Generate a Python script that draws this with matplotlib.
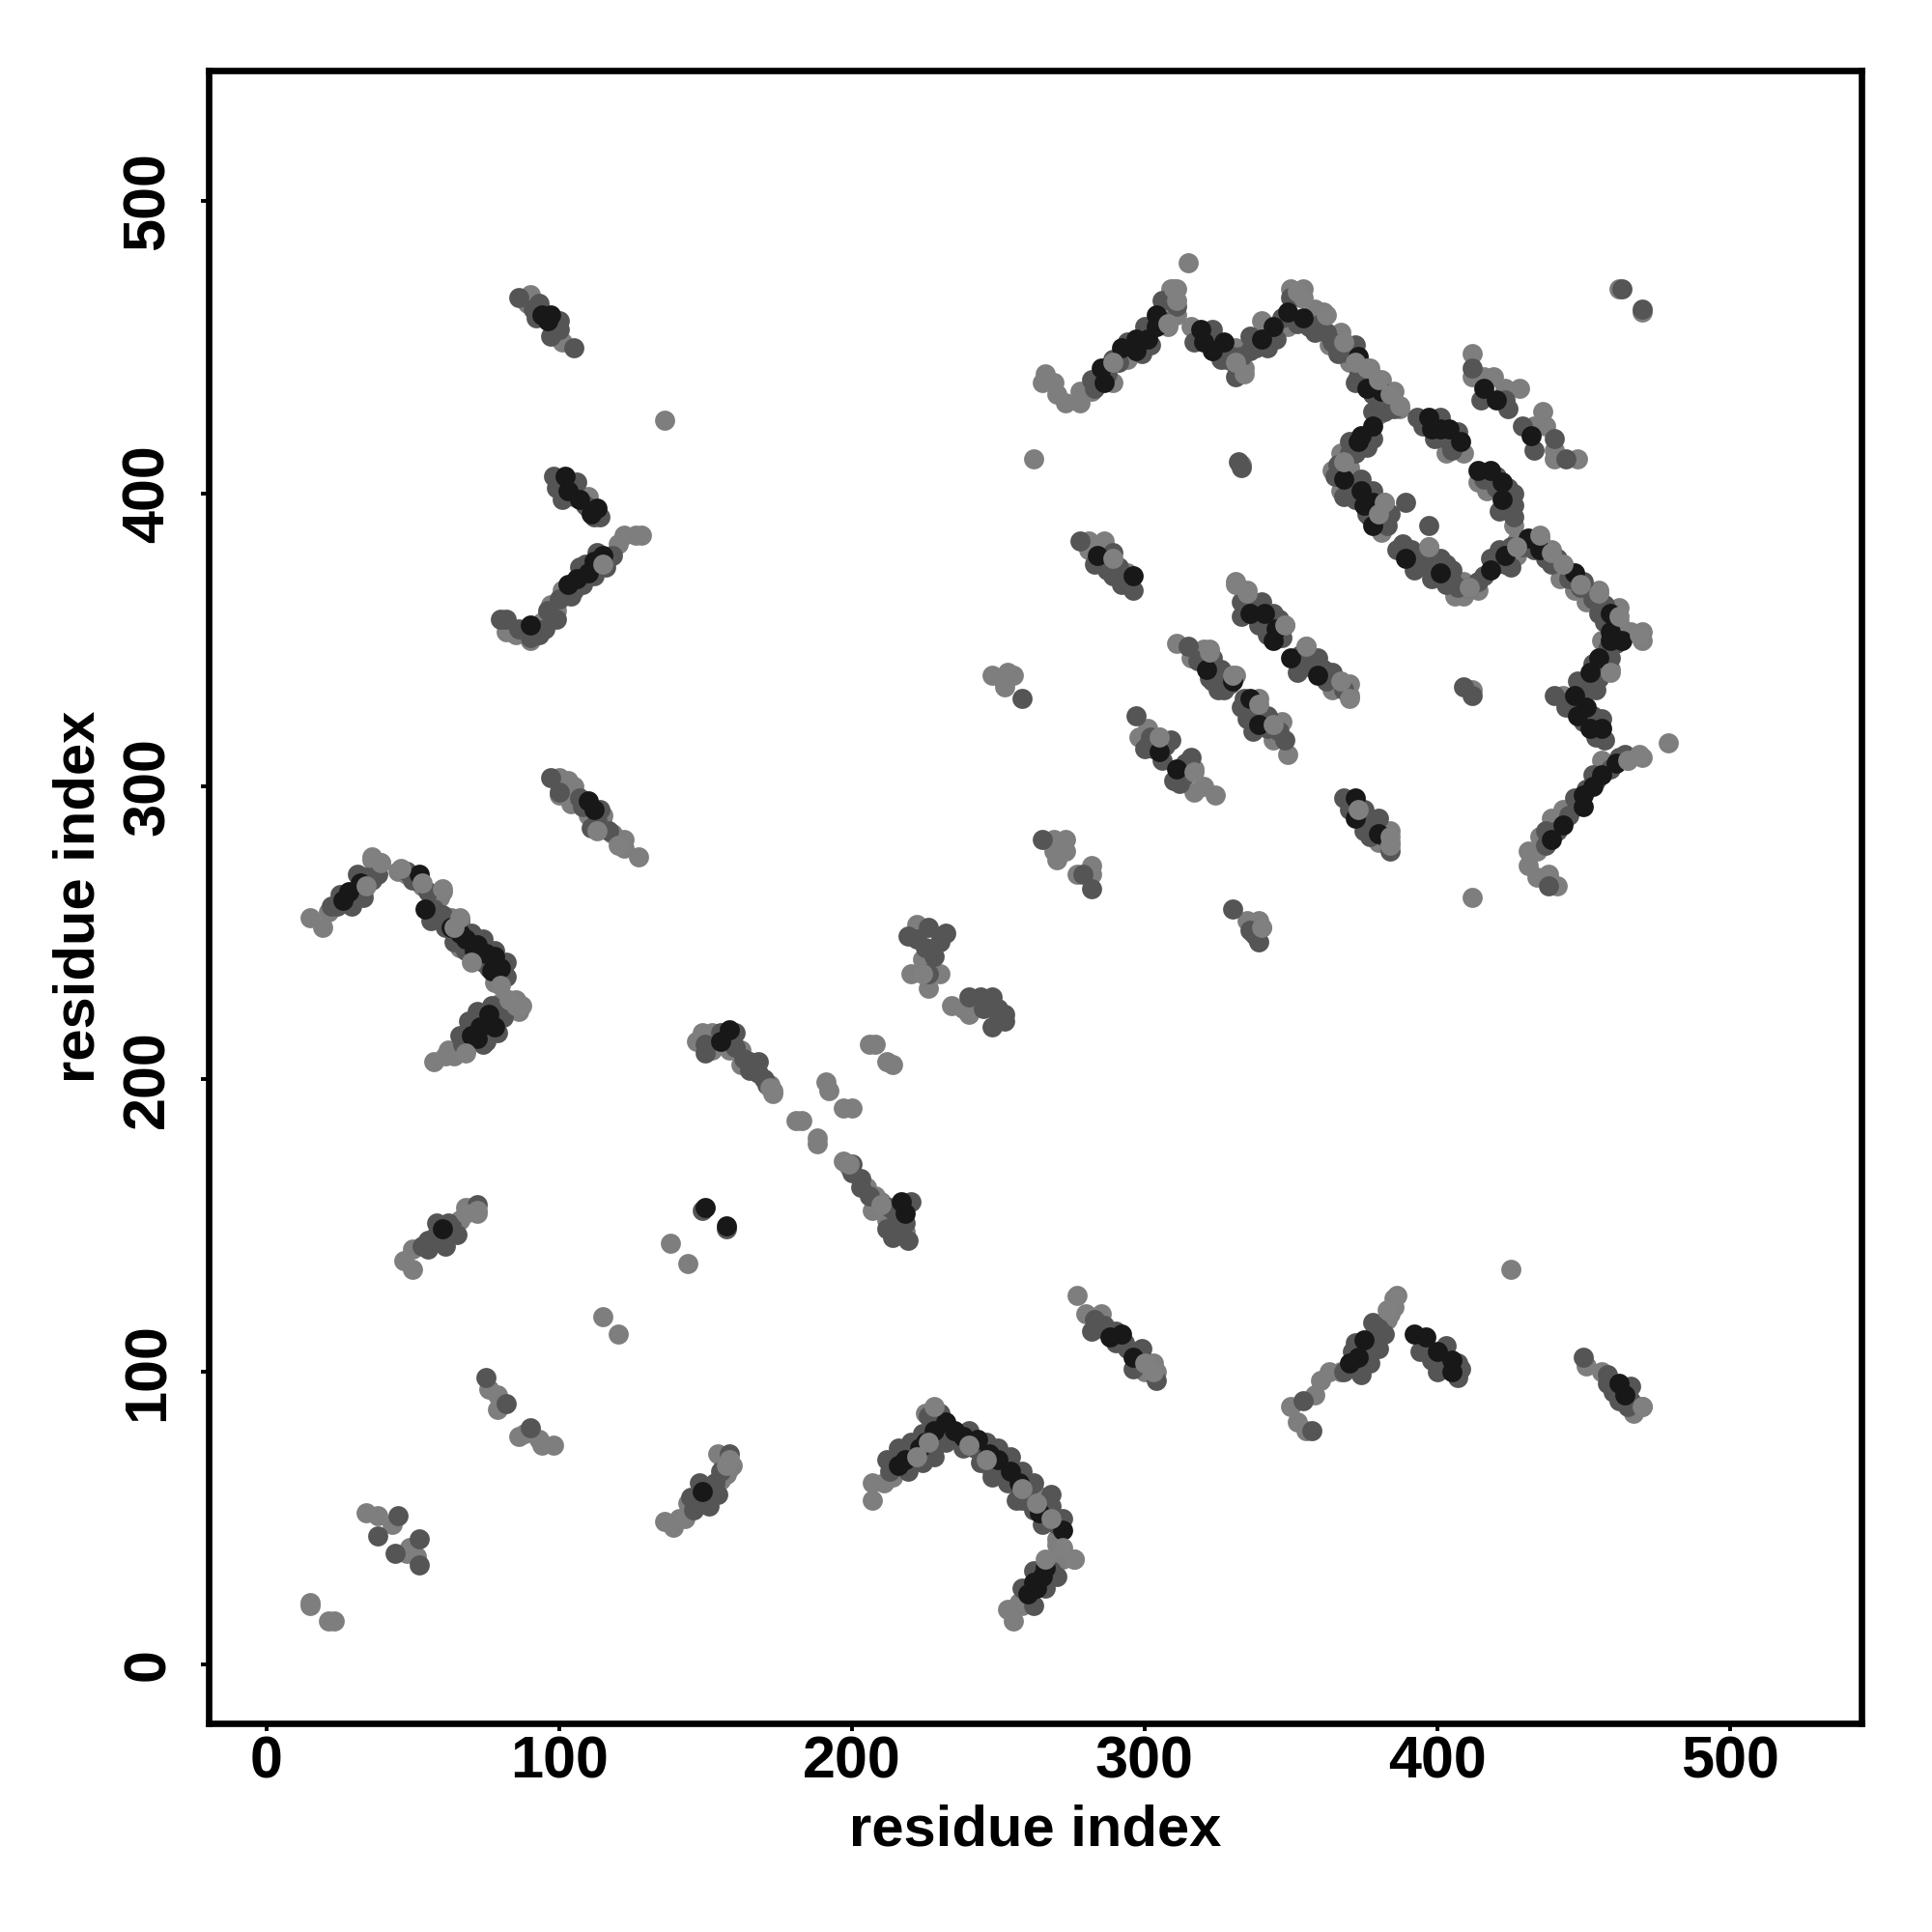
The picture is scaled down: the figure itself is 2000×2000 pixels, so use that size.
import matplotlib
matplotlib.use('Agg')
import matplotlib.pyplot as plt
import numpy as np

# contact points, grouped by shade
light_pts = [
    (15,21),(15,20),(21,15),(23,15),(34,52),(38,51),(43,48),(49,40),(51,37),(48,38),
    (76,94),(79,92),(79,87),(86,78),(88,79),(94,75),(98,75),(93,77),
    (136,49),(139,47),(141,50),(143,50),(144,55),(147,54),(155,63),(157,65),(158,67),(156,69),(154,72),(156,70),(159,68),
    (207,56),(207,62),(211,62),(214,64),(222,70),(226,72),(225,86),(245,75),(263,58),(266,50),(270,43),
    (255,15),(253,19),(257,21),(272,36),(276,36),(272,38),(270,41),(258,20),
    (277,126),(280,120),(285,120),(300,100),(303,103),(304,100),(298,106),(300,103),
    (350,88),(352,83),(355,80),(358,92),(360,97),(363,100),(367,100),(383,118),(385,122),(386,126),(384,120),
    (451,102),(456,100),(470,88),(467,86),(425,135),(115,119),(120,113),(138,144),(144,137),
    (47,138),(50,135),(50,142),(66,152),(68,156),(72,154),(70,156),(62,147),(56,144),
    (197,172),(199,170),(205,163),(208,160),(210,158),(218,148),(212,152),(207,155),(216,150),
    (147,213),(149,216),(152,216),(162,210),(172,198),(173,196),(158,210),(162,205),(152,210),
    (181,186),(183,186),(188,180),(188,178),(191,199),(192,196),(197,190),(200,190),(206,212),(208,212),(212,206),(214,205),
    (224,241),(220,236),(230,236),(226,231),(234,225),(238,224),(240,222),(222,253),
    (57,206),(61,208),(64,208),(62,210),(80,226),(85,227),(86,223),(84,226),(68,210),
    (15,255),(19,252),(21,257),(33,264),(37,272),(36,275),(39,274),(45,271),(48,270),(53,266),(59,262),(60,264),(63,255),(66,245),(78,233),
    (100,303),(103,302),(100,297),(105,300),(115,287),(118,284),(122,282),(122,279),(115,290),(127,276),(110,290),(104,294),
    (315,479),(262,412),(333,410),
    (266,441),(265,438),(269,438),(270,434),(273,431),(278,431),(278,435),(282,435),(289,438),(294,446),(308,457),(308,464),(309,470),(311,470),(311,461),
    (316,457),(331,444),(331,450),(334,443),(340,459),(349,457),(350,470),(354,470),(353,467),(358,463),(361,462),(367,455),(363,451),(368,450),(370,445),(377,443),(381,439),(385,435),(387,429),
    (380,427),(367,414),(370,409),(364,408),(367,401),(382,397),(381,387),(409,414),(403,414),(414,404),(417,401),(426,389),
    (397,382),(406,365),(409,370),(409,365),(414,367),(427,379),(427,384),
    (435,385),(439,381),(443,376),(442,371),(447,367),(455,367),(451,363),(462,361),(462,356),(466,353),(470,353),(470,350),(456,350),(459,340),(451,334),(443,331),
    (479,315),(470,310),(465,309),(456,309),(447,293),(443,292),(439,289),(435,283),(431,278),(431,273),(434,278),(434,269),(438,270),(441,266),
    (412,262),(335,254),(339,254),(340,252),(337,250),(462,470),(470,462),
    (412,448),(412,440),(416,440),(419,440),(423,436),(428,436),(436,428),(433,423),(437,423),(440,415),(440,412),(448,412),(412,333),
    (331,370),(335,367),(348,355),(355,348),(364,333),(370,335),(370,331),(367,335),
    (311,349),(320,347),(316,344),(322,347),(323,342),(328,338),(331,338),
    (339,330),(339,326),(344,322),(347,322),(344,316),(349,311),
    (301,320),(298,317),(305,317),(317,306),(320,300),(317,298),(324,297),
    (281,384),(286,384),(281,381),(289,377),(294,373),(373,293),(384,285),(384,281),(380,281),
    (269,282),(273,282),(269,278),(270,275),(273,278),(282,273),(277,270),(282,270),
    (248,338),(253,339),(255,338),(252,334),(251,337),
    (90,468),(89,465),(101,452),(136,425),(110,399),
    (82,353),(85,352),(94,356),(90,350),(96,359),(99,360),(97,362),(101,367),(120,383),(122,386),(126,386),(128,386),(115,376),
]
mid_pts = [
    (45,51),(38,44),(44,38),(52,43),(52,34),(75,98),(82,89),(90,81),
    (146,53),(148,56),(150,57),(152,58),(151,60),(153,62),(158,72),
    (213,66),(220,72),(228,74),(230,78),(226,85),(230,86),(240,80),(248,66),(252,68),(260,60),(258,56),(272,50),(268,32),
    (283,118),(284,115),(290,110),(294,108),(304,97),(296,101),(354,90),(376,107),(378,112),(380,115),(357,80),
    (396,108),(402,105),(406,100),(407,98),(400,100),(450,105),(458,99),(466,90),(465,88),
    (53,143),(55,145),(58,147),(63,150),(72,157),(200,168),(203,166),(213,156),(214,146),
    (150,212),(160,216),(165,206),(168,202),(170,200),
    (219,249),(226,252),(222,248),(225,245),(230,247),(228,242),(226,236),(240,228),(244,228),(248,228),(250,224),(252,222),(245,224),(248,218),(250,220),(252,220),(232,250),
    (67,212),(74,212),(78,224),(72,220),(24,259),(34,269),(38,270),(48,271),(55,264),(60,256),(80,235),(74,240),
    (97,303),(107,296),(113,288),(332,411),(333,409),
    (282,439),(289,446),(300,457),(311,464),(323,456),(326,446),(331,440),(336,449),(336,454),(350,467),(358,455),(362,455),(372,451),(373,440),(385,429),
    (382,428),(378,419),(370,418),(370,414),(365,406),(370,402),(374,405),(378,401),(381,392),(383,389),(389,397),(397,389),
    (393,426),(401,426),(404,418),(426,400),(426,396),(426,392),
    (388,383),(393,378),(397,375),(401,378),(405,374),(403,369),(414,370),(418,378),(423,376),
    (439,376),(450,370),(455,359),(459,344),(455,337),(448,336),(440,331),(444,327),(456,323),(457,316),
    (464,311),(438,266),(330,258),(336,251),(338,249),(339,247),(463,470),(470,463),
    (412,443),(415,432),(424,429),(423,432),(429,423),(440,419),(444,412),(433,415),(409,334),(412,331),
    (333,363),(340,363),(344,359),(339,355),(353,342),(359,344),(364,339),
    (315,348),(323,336),(327,333),(333,327),(335,323),(348,316),
    (297,324),(302,317),(309,316),(303,313),(316,310),(312,301),
    (278,384),(289,380),(285,376),(289,372),(296,367),(368,296),(376,289),(380,289),(375,285),(384,278),
    (265,282),(279,270),(282,265),(258,330),
    (86,467),(91,463),(100,456),(105,450),(98,406),(106,404),(99,402),(114,392),
    (80,357),(82,357),(90,351),(107,375),(118,379),(105,367),(96,360),
    # strand thickening
    (22,259),(25,263),(29,259),(33,262),(36,268),(31,270),
    (50,268),(57,258),(56,254),(61,252),(64,247),(68,244),(72,241),(76,238),(70,250),(74,248),(78,244),(82,240),(82,235),(66,254),
    (66,215),(69,220),(72,223),(77,225),(81,221),(75,213),(79,216),
    (212,70),(216,74),(220,76),(224,79),(219,66),(224,69),(228,71),(232,76),(228,84),(233,78),
    (238,74),(242,74),(246,76),(250,74),(254,71),(244,69),(248,64),(253,62),(258,66),(262,62),(256,56),(262,53),(268,58),(268,54),(270,48),(265,48),
    (262,20),(258,26),(262,32),(266,26),(270,30),
    (283,436),(287,441),(291,445),(295,451),(299,448),(294,452),(302,451),(306,459),(302,456),(306,466),
    (317,452),(322,453),(325,448),(328,446),(330,447),(333,447),(338,450),(342,450),(345,453),(347,460),(352,458),(356,457),(360,458),(364,452),(366,448),(370,448),(374,444),(372,438),(378,434),(382,431),(378,428),
    (376,416),(372,414),(366,410),(368,399),(372,398),(376,393),(380,390),(377,392),(384,393),
    (395,423),(399,419),(403,419),(407,421),(405,415),(416,405),(420,402),(424,402),(420,406),(424,396),(421,394),
    (386,381),(391,381),(395,376),(399,377),(403,376),(392,374),(398,371),(405,370),(407,368),(411,368),(416,372),(420,376),(425,375),(421,381),(425,382),
    (429,382),(433,381),(437,378),(441,378),(445,371),(449,368),(453,364),(457,362),(457,356),(461,349),(458,347),(453,342),(457,341),(450,335),(454,333),(445,329),(449,329),(447,326),(453,324),(450,322),(454,317),
    (459,306),(462,310),(454,302),(451,299),(448,295),(445,290),(441,285),(437,285),(447,296),(437,280),(453,304),
    (333,358),(337,362),(342,356),(346,357),(342,352),(347,351),(353,345),(352,339),(356,341),(361,340),(362,336),(368,333),
    (318,343),(323,344),(325,337),(326,340),(329,335),(322,337),(325,333),
    (334,330),(337,324),(342,324),(342,320),(346,319),(337,319),
    (301,314),(307,314),(306,309),(310,302),(314,304),(314,308),(300,313),
    (283,376),(287,374),(291,375),(292,369),(370,292),(375,292),(377,283),(378,287),(382,283),
    (92,460),(99,458),(100,459),(93,465),(97,454),(100,403),(105,399),(109,396),(112,392),(101,398),(110,395),
    (100,364),(104,365),(108,369),(112,372),(116,375),(109,376),(113,380),(99,357),(95,354),(86,354),(93,352),
    (100,298),(108,293),(114,292),(111,286),(117,285),
    (286,116),(290,114),(293,110),(297,103),(299,108),(282,114),
    (368,100),(371,107),(372,110),(377,103),(374,99),(380,108),(378,117),(382,113),
    (394,107),(398,104),(402,101),(403,109),(407,103),(408,101),(460,93),(466,95),(462,90),(458,96),
    (55,142),(58,151),(62,151),(65,147),(61,143),(145,57),(151,54),(154,58),(148,62),(155,66),
    (203,163),(200,171),(206,160),(212,149),(220,158),(218,151),(215,154),(219,145),
    (160,211),(165,203),(168,206),(171,198),(155,216),(150,209),(163,207),
    (149,155),(157,149),
]
dark_pts = [
    (149,59),(216,68),(218,70),(223,74),(225,76),(228,80),(232,83),(235,80),(238,78),(243,77),(247,72),(250,70),(254,66),(257,62),(264,52),(272,46),
    (260,24),(263,26),(265,30),(266,33),(262,28),
    (288,112),(292,113),(296,105),(370,103),(373,105),(375,111),
    (392,113),(396,112),(400,107),(405,104),(405,100),(462,96),(464,92),(150,156),(157,150),
    (60,149),(217,158),(218,154),(155,213),(158,217),
    (70,215),(73,218),(76,222),(72,214),(78,218),
    (26,261),(28,264),(32,267),(52,270),(54,258),(63,252),(66,250),(68,248),(72,246),(75,243),(78,242),(80,238),(77,237),(71,244),
    (110,295),(112,292),
    (285,443),(286,438),(292,450),(297,449),(297,453),(301,453),(304,461),(304,457),
    (319,456),(320,452),(323,449),(327,452),(340,453),(344,457),(349,462),(354,460),(373,447),(376,436),(381,435),
    (378,423),(374,420),(373,418),(368,405),(374,401),(375,396),(378,397),(378,389),
    (397,426),(398,422),(401,422),(404,422),(408,418),(414,408),(418,408),(422,404),(422,398),
    (389,378),(401,373),(418,374),(423,379),
    (431,385),(435,381),(447,373),(459,359),(459,353),(459,350),(463,350),(455,344),(452,339),(447,331),(451,327),(448,324),(452,320),(456,320),
    (461,308),(456,304),(453,300),(450,297),(450,293),(443,287),(439,282),
    (416,436),(420,432),(432,420),
    (336,359),(341,359),(345,354),(344,350),(350,344),(359,338),
    (321,340),(330,336),(336,330),(339,321),
    (305,312),(311,306),(284,379),(296,372),(372,296),(372,289),(380,284),
    (94,461),(97,461),(96,459),(102,406),(103,401),(107,398),(113,395),(111,393),
    (90,355),(103,369),(106,371),(110,373),(112,377),(115,379),
]
# light points that sit on top of the dark ones
top_pts = [
    (36,276),(39,274),(34,266),(53,267),(60,265),(66,255),(64,252),(46,272),(80,232),(70,240),(85,225),(87,225),(83,227),(68,209),
    (228,88),(222,71),(226,76),(240,75),(246,70),(258,60),(263,55),(268,50),(266,36),(272,40),(276,36),
    (289,445),(308,458),(311,466),(310,470),(331,445),(334,441),(352,469),(354,467),(362,461),(368,452),(372,445),(376,443),(380,439),(384,434),(387,430),
    (368,411),(382,397),(380,393),(397,382),(411,368),(427,382),(435,386),(439,380),(443,376),(449,369),(455,366),(462,358),(469,352),(459,339),(465,309),(469,311),
    (348,355),(355,348),(367,336),(370,330),(331,369),(335,366),(322,346),(330,338),(339,328),(344,321),(305,317),(317,305),(289,378),(373,292),(384,283),
    (113,285),(120,280),(115,376),(300,103),(303,100),(383,121),(385,125),(470,88),(68,154),(72,155),(157,68),(158,70),
    (172,197),(173,195),(199,171),(210,157),(224,236),(340,252),(384,280),
]

ticks = [0, 100, 200, 300, 400, 500]

plt.rcParams['font.family'] = ['Liberation Sans', 'DejaVu Sans']
plt.rcParams['font.weight'] = 'bold'

fig = plt.figure(figsize=(10, 10), dpi=200)
ax = fig.add_axes([216 / 2000, 216 / 2000, 1711 / 2000, 1711 / 2000])

for pts, grey in [(light_pts, '#7e7e7e'), (mid_pts, '#555555'), (dark_pts, '#181818'), (top_pts, '#808080')]:
    xy = np.array(pts)
    ax.scatter(xy[:, 0], xy[:, 1], s=56, c=grey, linewidths=0, zorder=2)

ax.set_xlim(-19.8, 544.9)
ax.set_ylim(-20.1, 544.6)
ax.set_xticks(ticks)
ax.set_yticks(ticks)
ax.tick_params(length=3, width=1.4, labelsize=22)
ax.tick_params(axis='x', pad=1.5)
ax.tick_params(axis='y', pad=9)
for lab in ax.get_yticklabels():
    lab.set_rotation(90)
    lab.set_va('center')
for s in ax.spines.values():
    s.set_linewidth(2.4)
ax.set_xlabel('residue index', fontsize=21.5, fontweight='bold', labelpad=5)
ax.set_ylabel('residue index', fontsize=21.5, fontweight='bold', labelpad=6)

fig.savefig('out.png', dpi=200)
